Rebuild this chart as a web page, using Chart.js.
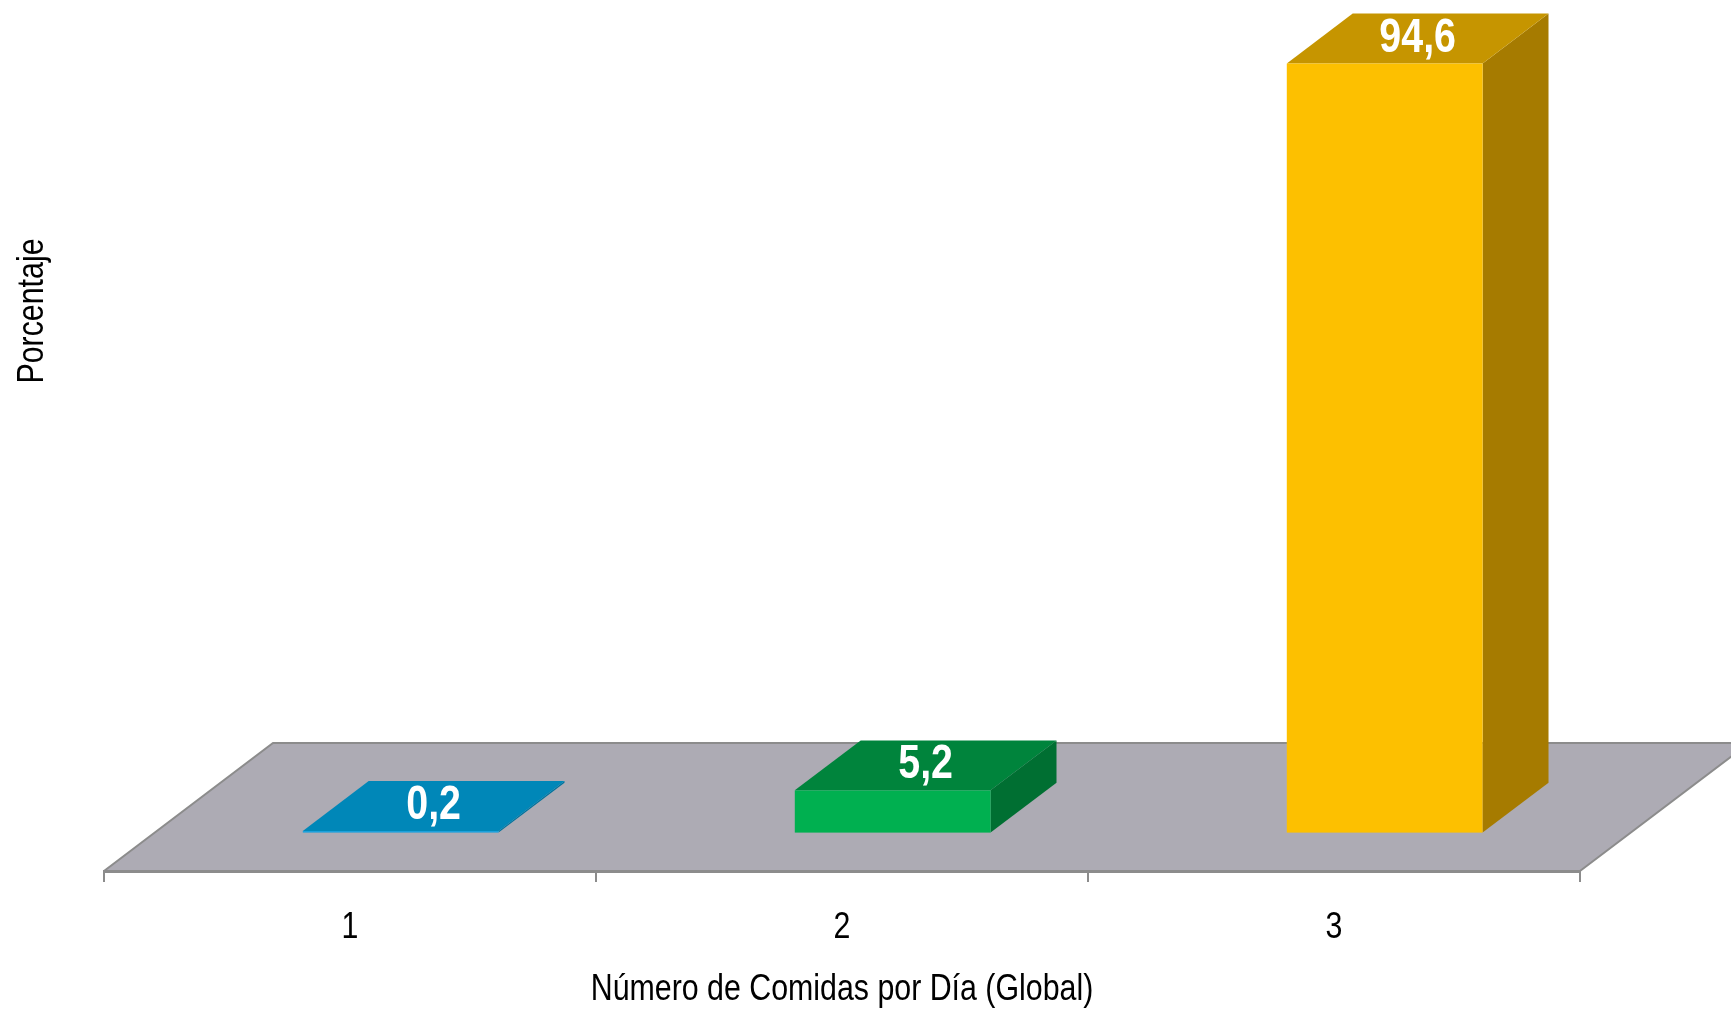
<!DOCTYPE html>
<html>
<head>
<meta charset="utf-8">
<script src="https://cdn.jsdelivr.net/npm/chart.js@4/dist/chart.umd.min.js"></script>
<style>
  html, body { margin: 0; padding: 0; background: #fff; }
  canvas { display: block; }
</style>
</head>
<body>
<canvas id="grafico-comidas" width="1731" height="1011"></canvas>
<script>
// Datos
const categorias = ['1', '2', '3'];
const porcentajes = [0.2, 5.2, 94.6];
const etiquetas = ['0,2', '5,2', '94,6'];
const tituloX = 'Número de Comidas por Día (Global)';
const tituloY = 'Porcentaje';
const colorFrente = ['#1ba1dc', '#00b050', '#fdc000'];
const colorTapa   = ['#0087b8', '#00843c', '#c69500'];
const colorLado   = ['#00739d', '#006f32', '#a67b00'];

const FUENTE = "'Liberation Sans', Arial, sans-serif";
const ANGOSTO = 0.82;   // letra estrecha (tipo Arial Narrow)

// profundidad del piso (px) y posición de las barras dentro de ella
const PISO_DX = 169, PISO_DY = 128;
const FRENTE = 0.30, FONDO = 0.69;

function textoAngosto(ctx, texto, x, y, font, color, angulo) {
    ctx.save();
    ctx.translate(x, y);
    if (angulo) ctx.rotate(angulo);
    ctx.scale(ANGOSTO, 1);
    ctx.font = font;
    ctx.fillStyle = color;
    ctx.textAlign = 'center';
    ctx.textBaseline = 'alphabetic';
    ctx.fillText(texto, 0, 0);
    ctx.restore();
}

const pisoPlugin = {
    id: 'piso3d',
    beforeDraw(chart) {
        const { ctx, chartArea: a } = chart;
        ctx.save();
        ctx.beginPath();
        ctx.moveTo(a.left, a.bottom);
        ctx.lineTo(a.right, a.bottom);
        ctx.lineTo(a.right + PISO_DX, a.bottom - PISO_DY);
        ctx.lineTo(a.left + PISO_DX, a.bottom - PISO_DY);
        ctx.closePath();
        ctx.fillStyle = '#adabb4';
        ctx.fill();
        // bordes del piso
        ctx.strokeStyle = '#8c8c8c';
        ctx.lineWidth = 2;
        ctx.beginPath();
        ctx.moveTo(a.left, a.bottom);
        ctx.lineTo(a.left + PISO_DX, a.bottom - PISO_DY);
        ctx.lineTo(a.right + PISO_DX, a.bottom - PISO_DY);
        ctx.moveTo(a.right, a.bottom);
        ctx.lineTo(a.right + PISO_DX, a.bottom - PISO_DY);
        ctx.stroke();
        ctx.restore();
    }
};

const barras3dPlugin = {
    id: 'barras3d',
    beforeDatasetsDraw(chart) {
        const { ctx } = chart;
        const meta = chart.getDatasetMeta(0);
        const fx = PISO_DX * FRENTE, fy = PISO_DY * FRENTE;
        const px = PISO_DX * (FONDO - FRENTE), py = PISO_DY * (FONDO - FRENTE);

        ctx.save();
        meta.data.forEach((bar, i) => {
            const x0 = bar.x - bar.width / 2 + fx;
            const x1 = bar.x + bar.width / 2 + fx;
            const top = bar.y - fy;
            const base = bar.base - fy;

            // lado derecho
            ctx.fillStyle = colorLado[i];
            ctx.beginPath();
            ctx.moveTo(x1, base);
            ctx.lineTo(x1 + px, base - py);
            ctx.lineTo(x1 + px, top - py);
            ctx.lineTo(x1, top);
            ctx.closePath();
            ctx.fill();

            // tapa
            ctx.fillStyle = colorTapa[i];
            ctx.beginPath();
            ctx.moveTo(x0, top);
            ctx.lineTo(x1, top);
            ctx.lineTo(x1 + px, top - py);
            ctx.lineTo(x0 + px, top - py);
            ctx.closePath();
            ctx.fill();

            // frente
            ctx.fillStyle = colorFrente[i];
            ctx.fillRect(x0, top, x1 - x0, Math.max(base - top, 1.5));

            // valor sobre la tapa (centrado en la tapa)
            textoAngosto(ctx, etiquetas[i], (x0 + x1) / 2 + px / 2, top - py / 2 + 13,
                'bold 48px ' + FUENTE, '#fff');
        });
        ctx.restore();
        return false;
    },
    afterDraw(chart) {
        const { ctx, chartArea: a } = chart;
        const xs = chart.scales.x;
        // etiquetas de categoría y títulos de ejes
        categorias.forEach((c, i) => {
            textoAngosto(ctx, c, xs.getPixelForValue(i), 938, '37px ' + FUENTE, '#000');
        });
        textoAngosto(ctx, tituloX, (a.left + a.right) / 2, 1000, '37px ' + FUENTE, '#000');
        textoAngosto(ctx, tituloY, 43, 311, '37px ' + FUENTE, '#000', -Math.PI / 2);
    }
};

new Chart(document.getElementById('grafico-comidas'), {
    type: 'bar',
    data: {
        labels: categorias,
        datasets: [{
            label: tituloY,
            data: porcentajes,
            backgroundColor: colorFrente,
            categoryPercentage: 1,
            barPercentage: 0.398
        }]
    },
    options: {
        responsive: false,
        animation: false,
        devicePixelRatio: 1,
        layout: { padding: { top: 58, left: 104, right: 151, bottom: 0 } },
        plugins: {
            legend: { display: false },
            tooltip: { enabled: false }
        },
        scales: {
            x: {
                offset: true,
                grid: {
                    display: true,
                    offset: true,
                    drawOnChartArea: false,
                    drawTicks: true,
                    tickLength: 11,
                    color: '#8c8c8c',
                    lineWidth: 2
                },
                border: { display: true, color: '#8c8c8c', width: 3 },
                ticks: { display: false },
                title: { display: false },
                afterFit(scale) { scale.height = 140; }
            },
            y: {
                display: false,
                min: 0,
                max: 100
            }
        }
    },
    plugins: [pisoPlugin, barras3dPlugin]
});
</script>
</body>
</html>
